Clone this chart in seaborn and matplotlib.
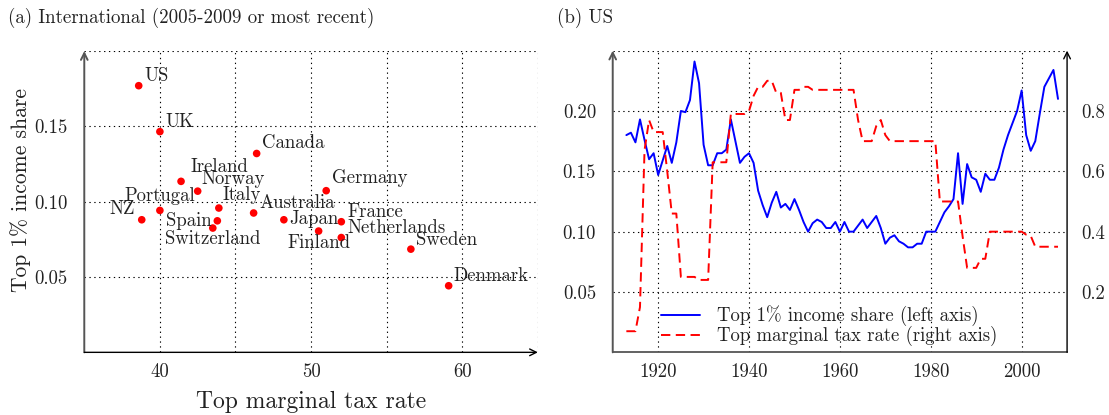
import numpy as np
import pandas as pd
import seaborn as sns
import matplotlib.pyplot as plt

sns.set_theme(style="white")
plt.rcParams['font.family'] = 'serif'
plt.rcParams['font.serif'] = ['cmr10', 'DejaVu Serif']
plt.rcParams['mathtext.fontset'] = 'cm'
plt.rcParams['axes.formatter.use_mathtext'] = True

# (a) international cross-section
countries = ["US", "UK", "Canada", "Ireland", "Norway", "Portugal", "NZ", "Italy", "Spain",
             "Switzerland", "Australia", "Japan", "Finland", "Germany", "France",
             "Netherlands", "Sweden", "Denmark"]
top_tax = [38.6, 40.0, 46.4, 41.4, 42.5, 40.0, 38.8, 43.9, 43.8,
           43.5, 46.2, 48.2, 50.5, 51.0, 52.0, 52.0, 56.6, 59.1]
top_share = [0.177, 0.1465, 0.132, 0.1135, 0.107, 0.0942, 0.088, 0.0958, 0.0873,
             0.0825, 0.0925, 0.088, 0.0805, 0.1073, 0.0867, 0.0762, 0.0685, 0.0442]

# (b) US time series, 1913-2008
years = list(range(1913, 2009))
us_share = [0.180, 0.182, 0.174, 0.193, 0.176, 0.160, 0.165, 0.147, 0.159, 0.171,
            0.157, 0.174, 0.200, 0.199, 0.209, 0.241, 0.223, 0.172, 0.155, 0.155,
            0.165, 0.165, 0.168, 0.193, 0.175, 0.157, 0.162, 0.165, 0.157, 0.134,
            0.122, 0.112, 0.124, 0.133, 0.120, 0.123, 0.118, 0.127, 0.118, 0.108,
            0.100, 0.107, 0.110, 0.108, 0.103, 0.103, 0.108, 0.100, 0.108, 0.100,
            0.100, 0.105, 0.110, 0.103, 0.108, 0.113, 0.103, 0.090, 0.095, 0.097,
            0.092, 0.090, 0.087, 0.087, 0.090, 0.090, 0.100, 0.100, 0.100, 0.108,
            0.116, 0.121, 0.127, 0.165, 0.123, 0.156, 0.145, 0.143, 0.133, 0.148,
            0.143, 0.143, 0.153, 0.168, 0.180, 0.190, 0.200, 0.217, 0.180, 0.167,
            0.175, 0.198, 0.220, 0.227, 0.234, 0.210]
us_tax = [0.07, 0.07, 0.07, 0.15, 0.67, 0.77, 0.73, 0.73, 0.73, 0.60,
          0.46, 0.46, 0.25, 0.25, 0.25, 0.25, 0.24, 0.24, 0.24, 0.63,
          0.63, 0.63, 0.63, 0.79, 0.79, 0.79, 0.79, 0.80, 0.85, 0.88,
          0.88, 0.90, 0.90, 0.86, 0.86, 0.77, 0.77, 0.87, 0.87, 0.88,
          0.88, 0.87, 0.87, 0.87, 0.87, 0.87, 0.87, 0.87, 0.87, 0.87,
          0.87, 0.77, 0.70, 0.70, 0.70, 0.75, 0.77, 0.72, 0.70, 0.70,
          0.70, 0.70, 0.70, 0.70, 0.70, 0.70, 0.70, 0.70, 0.70, 0.50,
          0.50, 0.50, 0.50, 0.50, 0.385, 0.28, 0.28, 0.28, 0.31, 0.31,
          0.40, 0.40, 0.40, 0.40, 0.40, 0.40, 0.40, 0.40, 0.39, 0.386,
          0.35, 0.35, 0.35, 0.35, 0.35, 0.35]

intl = pd.DataFrame({"country": countries, "tax": top_tax, "share": top_share})
us = pd.DataFrame({"year": years, "share": us_share, "tax": us_tax})

txt = "#222222"
axcol = "#555555"
grid_kw = dict(color="black", lw=0.8, dashes=(1.2, 3.2))

fig = plt.figure(figsize=(11.09, 4.15), dpi=100)
ax1 = fig.add_axes([0.076, 0.151, 0.409, 0.726])
ax2 = fig.add_axes([0.5525, 0.151, 0.4097, 0.727])
ax3 = ax2.twinx()

# ---- panel (a)
sns.scatterplot(data=intl, x="tax", y="share", ax=ax1, color="#ff0000", s=30,
                edgecolor="none", zorder=5)
ax1.set_xlim(35, 65)
ax1.set_ylim(0, 0.2)
for v in [40, 45, 50, 55, 60, 65]:
    ax1.axvline(v, **grid_kw, zorder=0)
for v in [0.05, 0.10, 0.15, 0.20]:
    ax1.axhline(v, **grid_kw, zorder=0)
ax1.set_xticks([40, 50, 60])
ax1.set_xticklabels(["40", "50", "60"])
ax1.set_yticks([0.05, 0.10, 0.15])
ax1.set_yticklabels(["0.05", "0.10", "0.15"])
ax1.tick_params(axis="both", length=0, labelsize=13.5, colors=txt)
ax1.tick_params(axis="y", pad=12)
ax1.tick_params(axis="x", pad=8)
ax1.yaxis.set_minor_locator(plt.MultipleLocator(0.0025))
ax1.tick_params(axis="y", which="minor", length=2, width=0.6, color=axcol, direction="inout")
for sp in ax1.spines.values():
    sp.set_visible(False)
ax1.annotate("", xy=(0, 1), xytext=(0, 0), xycoords="axes fraction",
             arrowprops=dict(arrowstyle="->", color=axcol, lw=1.4, shrinkA=0, shrinkB=0))
ax1.annotate("", xy=(1, 0), xytext=(0, 0), xycoords="axes fraction",
             arrowprops=dict(arrowstyle="->", color="black", lw=1.0, shrinkA=0, shrinkB=0))
ax1.set_xlabel("Top marginal tax rate", fontsize=17, color=txt, labelpad=7)
ax1.set_ylabel("Top 1% income share", fontsize=15.5, color=txt, labelpad=8)
ax1.yaxis.set_label_coords(-0.118, 0.54)

# label offsets in pixels (dx, dy, ha)
label_pos = {
    "US": (6, 10, "left"), "UK": (6, 10, "left"), "Canada": (5, 10, "left"),
    "Ireland": (9, 14, "left"), "Norway": (4, 12, "left"), "Portugal": (0, 14, "center"),
    "NZ": (-7, 11, "right"), "Italy": (4, 13, "left"), "Spain": (-6, 0, "right"),
    "Switzerland": (0, -11, "center"), "Australia": (6, 10, "left"), "Japan": (5, 1, "left"),
    "Finland": (0, -12, "center"), "Germany": (6, 13, "left"), "France": (6, 10, "left"),
    "Netherlands": (6, 10, "left"), "Sweden": (5, 9, "left"), "Denmark": (5, 10, "left"),
}
for c, x, y in zip(countries, top_tax, top_share):
    dx, dy, ha = label_pos[c]
    ax1.annotate(c, (x, y), xytext=(dx, dy), textcoords="offset pixels",
                 ha=ha, va="center", fontsize=13.5, color=txt, zorder=6)

# ---- panel (b)
sns.lineplot(data=us, x="year", y="share", ax=ax2, color="#0000ff", lw=1.4,
             label="Top 1% income share (left axis)", legend=False)
sns.lineplot(data=us, x="year", y="tax", ax=ax3, color="#ff0000", lw=1.4,
             label="Top marginal tax rate (right axis)", legend=False)
ax3.lines[-1].set_dashes([4.8, 2.8])
ax2.set_xlim(1910, 2010)
ax2.set_ylim(0, 0.25)
ax3.set_ylim(0, 1.0)
for v in [1920, 1940, 1960, 1980, 2000]:
    ax2.axvline(v, **grid_kw, zorder=0)
for v in [0.05, 0.10, 0.15, 0.20, 0.25]:
    ax2.axhline(v, **grid_kw, zorder=0)
ax2.set_xticks([1920, 1940, 1960, 1980, 2000])
ax2.set_xticklabels(["1920", "1940", "1960", "1980", "2000"])
ax2.set_yticks([0.05, 0.10, 0.15, 0.20])
ax2.set_yticklabels(["0.05", "0.10", "0.15", "0.20"])
ax3.set_yticks([0.2, 0.4, 0.6, 0.8])
ax3.set_yticklabels(["0.2", "0.4", "0.6", "0.8"])
ax2.tick_params(axis="both", length=0, labelsize=13.5, colors=txt)
ax2.tick_params(axis="y", pad=12)
ax2.tick_params(axis="x", pad=8)
ax3.tick_params(axis="y", length=0, labelsize=13.5, colors=txt, pad=10)
ax2.set_xlabel("")
ax2.set_ylabel("")
ax3.set_ylabel("")
for a in (ax2, ax3):
    a.grid(False)
    for sp in a.spines.values():
        sp.set_visible(False)
ax2.spines["bottom"].set_visible(True)
ax2.spines["bottom"].set_color(axcol)
ax2.spines["bottom"].set_linewidth(1.3)
ax2.annotate("", xy=(0, 1), xytext=(0, 0), xycoords="axes fraction",
             arrowprops=dict(arrowstyle="->", color=axcol, lw=1.4, shrinkA=0, shrinkB=0))
ax3.annotate("", xy=(1, 1), xytext=(1, 0), xycoords="axes fraction",
             arrowprops=dict(arrowstyle="->", color="black", lw=1.0, shrinkA=0, shrinkB=0))

h2, l2 = ax2.get_legend_handles_labels()
h3, l3 = ax3.get_legend_handles_labels()
ax3.legend(h2 + h3, l2 + l3, loc="lower left", bbox_to_anchor=(0.09, -0.005),
           frameon=False, fontsize=13.5, handlelength=2.1, handletextpad=0.9,
           labelspacing=0.0, borderaxespad=0.0, labelcolor=txt)

fig.text(0.007, 0.958, "(a) International (2005-2009 or most recent)", fontsize=13.6,
         color=txt, va="center")
fig.text(0.502, 0.958, "(b) US", fontsize=13.6, color=txt, va="center")

fig.savefig("out.png", dpi=100)
